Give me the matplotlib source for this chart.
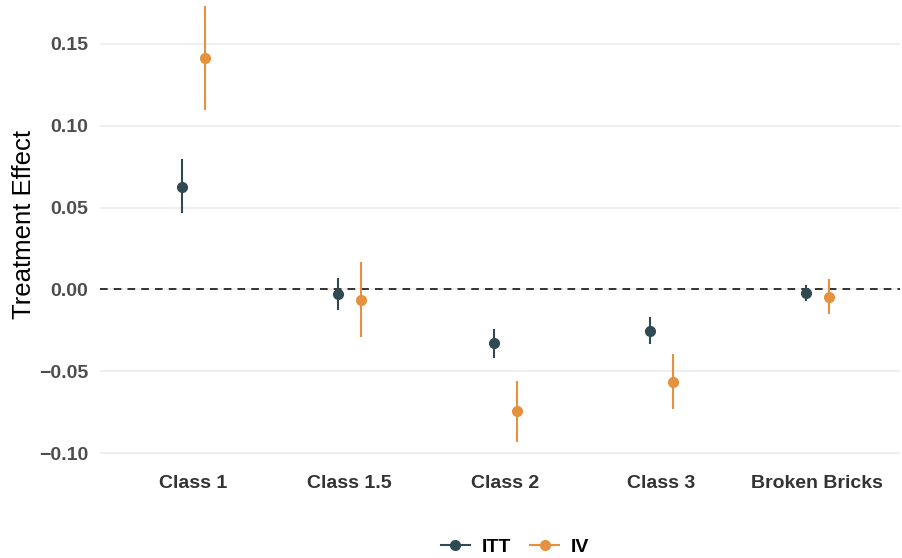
import matplotlib.pyplot as plt
import numpy as np

plt.rcParams['font.family'] = ['Liberation Sans', 'DejaVu Sans']

# values
categories = ['Class 1', 'Class 1.5', 'Class 2', 'Class 3', 'Broken Bricks']
itt_est = [0.0628, -0.0030, -0.0330, -0.0254, -0.0022]
itt_lo = [0.0470, -0.0128, -0.0420, -0.0335, -0.0071]
itt_hi = [0.0799, 0.0073, -0.0244, -0.0170, 0.0030]
iv_est = [0.1415, -0.0065, -0.0745, -0.0567, -0.0045]
iv_lo = [0.1098, -0.0293, -0.0933, -0.0732, -0.0148]
iv_hi = [0.1730, 0.0170, -0.0560, -0.0396, 0.0065]
yticks = [-0.10, -0.05, 0.00, 0.05, 0.10, 0.15]

itt_col = '#2F4A52'
iv_col = '#E5913E'

fig = plt.figure(figsize=(9.02, 5.58), dpi=100)
ax = fig.add_axes([100 / 902, (558 - 464) / 558, 800 / 902, 464 / 558])

x = np.arange(1, len(categories) + 1)
dodge = 0.075

ax.axhline(0, color='black', linestyle=(0, (5, 4)), linewidth=1.1, zorder=1)

ax.vlines(x - dodge, itt_lo, itt_hi, color=itt_col, linewidth=1.5, zorder=2)
ax.plot(x - dodge, itt_est, 'o', color=itt_col, markersize=7, zorder=3)
ax.vlines(x + dodge, iv_lo, iv_hi, color=iv_col, linewidth=1.5, zorder=2)
ax.plot(x + dodge, iv_est, 'o', color=iv_col, markersize=7, zorder=3)

ax.set_xlim(0.4, 5.53)
ax.set_ylim(-0.1066, 0.1768)
ax.set_xticks(x)
ax.set_xticklabels(categories, fontsize=14, fontweight='bold', color='#333333')
ax.set_yticks(yticks)
ax.set_yticklabels([f'{v:.2f}'.replace('-', '\u2212') for v in yticks],
                   fontsize=14, fontweight='bold', color='#4D4D4D')
ax.tick_params(axis='both', length=0)
ax.tick_params(axis='x', pad=8)
ax.tick_params(axis='y', pad=8.5)
ax.set_ylabel('Treatment Effect', fontsize=18.5)
ax.yaxis.set_label_coords(-0.08, 0.517)

ax.grid(axis='y', color='#EBEBEB', linewidth=1.1)
ax.set_axisbelow(True)
for s in ax.spines.values():
    s.set_visible(False)

h1, = ax.plot([], [], '-o', color=itt_col, markersize=7, linewidth=1.5)
h2, = ax.plot([], [], '-o', color=iv_col, markersize=7, linewidth=1.5)
fig.legend([h1, h2], ['ITT', 'IV'], loc='center', bbox_to_anchor=(0.571, 0.02),
           ncol=2, frameon=False, prop={'weight': 'bold', 'size': 14},
           handlelength=1.5, handletextpad=0.6, columnspacing=1.0)

fig.savefig('out.png', dpi=100)
